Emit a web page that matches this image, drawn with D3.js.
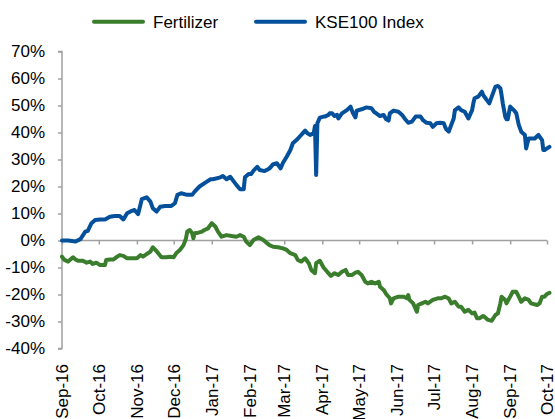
<!DOCTYPE html>
<html>
<head>
<meta charset="utf-8">
<script src="https://cdn.jsdelivr.net/npm/d3@7"></script>
<style>
  html, body { margin: 0; padding: 0; background: #fff; }
  svg { display: block; font-family: "Liberation Sans", Arial, sans-serif; }
</style>
</head>
<body>
<svg id="chart" width="555" height="419"></svg>
<script>
// ---- Data (day offsets from 1 Sep 2016, cumulative return in %) ----
const startDate = new Date(2016, 8, 1);
const seriesNames = ["Fertilizer", "KSE100 Index"];
const monthTicks = ["Sep-16","Oct-16","Nov-16","Dec-16","Jan-17","Feb-17","Mar-17","Apr-17","May-17","Jun-17","Jul-17","Aug-17","Sep-17","Oct-17"];
const yTickValues = [70, 60, 50, 40, 30, 20, 10, 0, -10, -20, -30, -40];

const kseDays = [0,5,11,15,19,21,24,27,31,35,39,43,47,50,53,57,59,62,65,69,72,74,77,80,84,89,92,94,97,102,106,108,112,118,121,123,129,131,134,137,140,142,145,148,149,152,154,156,159,161,165,169,172,175,178,180,183,186,188,191,194,196,198,200,202,205,206,207,208,210,213,214,217,218,220,222,224,225,228,232,235,237,239,240,244,248,252,254,256,259,262,264,266,267,270,274,277,279,282,285,288,292,294,297,300,302,305,308,311,312,313,315,316,319,320,323,325,328,331,334,335,336,339,342,343,346,348,350,353,355,357,358,359,361,362,363,365,368,370,372,374,377,378,380,382,385,388,391,392,393,395,397];
const kseValues = [0,0,-0.4,0.5,3.3,3.6,6.4,7.6,7.8,7.8,8.8,9.1,9.1,7.8,10.1,11,11.3,9.8,15.3,16,14.4,11.9,10.7,12.5,12.8,12.8,13.8,16.9,17.5,16.9,16.9,18.1,20,21.8,22.7,22.7,23.4,23.9,22.7,23.6,21.8,20.6,19,19,23.4,24.6,24.6,25.9,27.3,26.1,25.7,26.7,28.3,28.6,26.7,28.8,31,33.5,36,37.2,38.7,39.7,40.7,39.7,39.1,39.7,42.4,24.3,43.4,45.5,45.9,45.9,46.5,47.1,47.1,46.1,46.5,45.2,47.1,48.3,49.6,47.1,45.6,48.1,48.6,49.3,49,47.7,47.1,46.1,46.5,44.9,44.4,47.1,48.1,47.7,46.5,45.2,43.6,44,45.9,45.9,44.6,43.6,43.4,42.1,43.4,43.6,43.4,42.1,41.2,40.3,41.6,45.2,48.3,49.3,48.3,47.7,45.2,48.3,50.8,52.7,53.3,55.1,53.9,52,50.8,53.3,57,57.2,56.4,53.9,50.8,45.9,44.9,44.9,49.6,48.3,47.1,42.8,40.3,39.1,34.1,37.8,37.8,37.8,39.1,37.2,33.5,33.5,34.1,34.7];

const fertDays = [0,2,5,8,9,11,13,17,20,23,25,28,31,35,36,39,42,45,47,50,53,57,61,64,66,69,72,74,76,78,81,85,88,91,93,96,99,101,102,104,106,107,108,111,114,116,119,120,122,125,127,130,134,138,142,145,148,150,153,156,160,164,167,169,172,176,180,183,186,190,192,195,198,201,203,206,207,210,213,216,219,222,225,228,231,233,236,239,241,244,247,249,252,255,258,259,262,264,267,268,270,274,278,281,282,283,286,289,290,293,296,298,302,306,309,312,315,317,320,323,325,328,331,334,336,338,340,343,344,347,350,353,355,357,358,361,362,365,367,370,372,374,377,380,382,387,389,391,393,395,397];
const fertValues = [-6,-7.2,-7.8,-6.6,-6.2,-7,-7.5,-7.5,-8.2,-7.8,-8.7,-8.2,-9.1,-9.1,-7.2,-7,-7,-6,-5.4,-5.7,-6.6,-6.6,-6.6,-5.4,-6,-5,-4.1,-2.5,-3.5,-4.5,-6.2,-6.2,-6,-6.2,-4.7,-3.5,-1.7,0.8,3.3,3.9,2.7,0.8,2.7,2.9,3.3,3.9,4.5,5.2,6.4,5.1,3.3,1.4,2,1.7,1.4,2,1.4,-0.4,-1.7,0.2,1.2,0.2,-1,-1.7,-2.3,-2.5,-2.9,-3.5,-4.7,-5.4,-7.2,-7.8,-6.6,-8.4,-10.9,-12.1,-8.4,-7.5,-10,-11.6,-13.1,-12.1,-12.8,-11.6,-10.9,-12.8,-12.8,-11.9,-11.6,-12.8,-15.3,-15.9,-15.3,-15.9,-15.3,-17.1,-18.3,-19.8,-21.4,-23.3,-21.4,-20.8,-20.8,-21.4,-20.2,-22,-23.3,-26.4,-23.9,-23.3,-22.7,-23.3,-22,-21.4,-21.4,-20.8,-21.5,-23.3,-22.7,-24.5,-24.5,-26.4,-25.7,-27,-26.7,-28.8,-28.8,-28,-28.2,-29.4,-29.7,-27.6,-27,-23.3,-20.8,-22,-23.3,-20.8,-19,-19,-20.8,-22.7,-21.4,-22,-23.3,-23.9,-23.3,-20.8,-20.8,-19.8,-19.4];

const colors = ["#3A7D2C", "#05509B"];

// ---- Build ----
const svg = d3.select("#chart");
const toDate = d => d3.timeDay.offset(startDate, d);
const fert = fertDays.map((d, i) => ({ date: toDate(d), value: fertValues[i] }));
const kse = kseDays.map((d, i) => ({ date: toDate(d), value: kseValues[i] }));

const x = d3.scaleTime()
  .domain([new Date(2016, 8, 1), new Date(2017, 9, 1)])
  .range([62, 547]);
const y = d3.scaleLinear().domain([-40, 70]).range([348.5, 51.5]);

const axisColor = "#A0A0A0";

// Y axis
const yAxis = svg.append("g")
  .attr("transform", "translate(62,0)")
  .call(d3.axisLeft(y).tickValues(yTickValues).tickSize(4).tickPadding(13)
    .tickFormat(d => d + "%"));
yAxis.select(".domain").attr("d", `M-4,${y(70)}H0V${y(-40)}H-4`).attr("stroke", axisColor).attr("stroke-width", 1.5);
yAxis.selectAll(".tick line").attr("stroke", axisColor).attr("stroke-width", 1.5);
yAxis.selectAll(".tick text").attr("font-size", 17).attr("fill", "#000")
  .attr("font-family", "Liberation Sans, Arial, sans-serif");

// X axis at 0%
const monthDates = monthTicks.map((m, i) => d3.timeMonth.offset(new Date(2016, 8, 1), i));
const xAxis = svg.append("g")
  .attr("transform", `translate(0,${y(0)})`)
  .call(d3.axisBottom(x).tickValues(monthDates).tickSize(4).tickFormat(""));
xAxis.select(".domain").attr("d", `M${x.range()[0]},0H${x.range()[1]}`).attr("stroke", axisColor).attr("stroke-width", 1.5);
xAxis.selectAll(".tick line").attr("stroke", axisColor).attr("stroke-width", 1.5);

// X labels at bottom, rotated
svg.append("g").selectAll("text")
  .data(monthDates)
  .join("text")
  .attr("transform", d => `translate(${x(d)},364) rotate(-90)`)
  .attr("text-anchor", "end")
  .attr("dy", "0.35em")
  .attr("font-size", 17)
  .attr("fill", "#000")
  .text((d, i) => monthTicks[i]);

// Lines
const line = d3.line().x(d => x(d.date)).y(d => y(d.value));
[fert, kse].forEach((s, i) => {
  svg.append("path")
    .datum(s)
    .attr("fill", "none")
    .attr("stroke", colors[i])
    .attr("stroke-width", 4)
    .attr("stroke-linejoin", "round")
    .attr("stroke-linecap", "round")
    .attr("d", line);
});

// Legend
const legendX = [94, 256];
const legend = svg.append("g");
seriesNames.forEach((name, i) => {
  legend.append("line")
    .attr("x1", legendX[i]).attr("x2", legendX[i] + 49)
    .attr("y1", 21.7).attr("y2", 21.7)
    .attr("stroke", colors[i]).attr("stroke-width", 4).attr("stroke-linecap", "round");
  legend.append("text")
    .attr("x", legendX[i] + 59).attr("y", 28.3)
    .attr("font-size", 17).attr("fill", "#000")
    .text(name);
});
</script>
</body>
</html>
